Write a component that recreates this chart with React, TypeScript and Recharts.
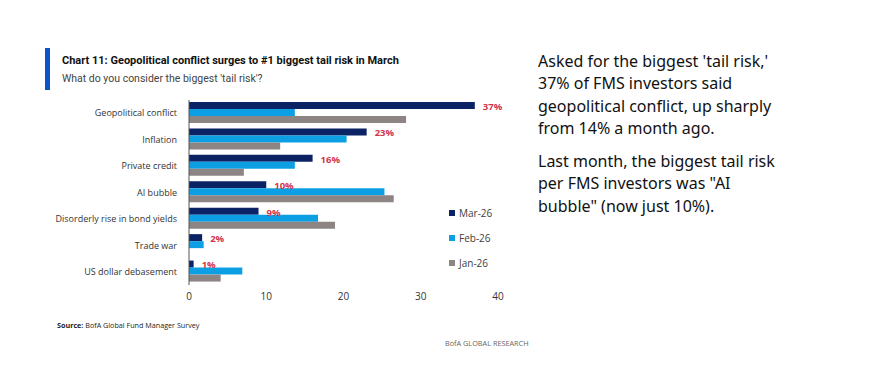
import { BarChart, Bar, XAxis, YAxis, LabelList } from 'recharts'

// chart data
const categories = [
	'Geopolitical conflict',
	'Inflation',
	'Private credit',
	'AI bubble',
	'Disorderly rise in bond yields',
	'Trade war',
	'US dollar debasement',
]
const mar26 = [37, 23, 16, 10, 9, 1.7, 0.6]
const feb26 = [13.7, 20.4, 13.7, 25.3, 16.7, 1.9, 6.9]
const jan26 = [28.1, 11.8, 7.1, 26.5, 18.9, 0, 4.1]
const xTicks = [0, 10, 20, 30, 40]

const series = [
	{ key: 'mar', name: 'Mar-26', color: '#0b2265' },
	{ key: 'feb', name: 'Feb-26', color: '#0d9fe3' },
	{ key: 'jan', name: 'Jan-26', color: '#8c8584' },
]

const data = categories.map((name, i) => ({
	name,
	mar: mar26[i],
	feb: feb26[i],
	jan: jan26[i],
}))

// single-line category label (no wrapping)
const CategoryTick = ({ x, y, payload }: any) => (
	<text x={x} y={y} dy='0.35em' textAnchor='end' fontSize={9} fill='#333' fontFamily="'Open Sans', sans-serif">
		{payload.value}
	</text>
)

// red % label just right of the Mar bar
const MarLabel = ({ x, y, width, height, value }: any) => (
	<text
		x={x + width + 8}
		y={y + height / 2 + 1}
		dy='0.35em'
		fontSize={9.5}
		fontWeight={700}
		fill='#d3344d'
		fontFamily="'Open Sans', sans-serif">
		{`${Math.round(value)}%`}
	</text>
)

export default function App() {
	return (
		<div style={{ position: 'absolute', left: 0, top: 0, width: 879, height: 379, background: '#fff', fontFamily: "'Open Sans', sans-serif" }}>
			{/* title block */}
			<div style={{ position: 'absolute', left: 45, top: 48, width: 5, height: 42, background: '#0a55c8' }} />
			<div style={{ position: 'absolute', left: 62, top: 54, fontFamily: 'Roboto, sans-serif', fontWeight: 700, fontSize: 11, color: '#111', whiteSpace: 'nowrap' }}>
				Chart 11: Geopolitical conflict surges to #1 biggest tail risk in March
			</div>
			<div style={{ position: 'absolute', left: 62, top: 72, fontFamily: 'Roboto, sans-serif', fontSize: 10.5, color: '#444', whiteSpace: 'nowrap' }}>
				What do you consider the biggest 'tail risk'?
			</div>

			<div style={{ position: 'absolute', left: 0, top: 0 }}>
				<BarChart
					width={520}
					height={320}
					data={data}
					layout='vertical'
					margin={{ top: 100, right: 22, bottom: 0, left: 0 }}
					barCategoryGap={2}
					barGap={0}>
					<XAxis
						type='number'
						domain={[0, 40]}
						ticks={xTicks}
						axisLine={false}
						tickLine={false}
						height={35}
						tick={{ fontSize: 10, fill: '#333', fontFamily: "'Open Sans', sans-serif" }}
					/>
					<YAxis
						type='category'
						dataKey='name'
						width={189}
						tickLine={false}
						axisLine={{ stroke: '#555' }}
						tickMargin={6}
						tick={<CategoryTick />}
					/>
					{series.map((s) => (
						<Bar key={s.key} dataKey={s.key} name={s.name} fill={s.color} isAnimationActive={false}>
							{s.key === 'mar' && <LabelList dataKey='mar' content={<MarLabel />} />}
						</Bar>
					))}
				</BarChart>
			</div>

			{/* legend */}
			<div style={{ position: 'absolute', left: 449, top: 200, fontSize: 10, color: '#404040' }}>
				{series.map((s) => (
					<div key={s.key} style={{ display: 'flex', alignItems: 'center', height: 25 }}>
						<span style={{ width: 6, height: 6, background: s.color, marginRight: 4, display: 'inline-block' }} />
						{s.name}
					</div>
				))}
			</div>

			<div style={{ position: 'absolute', left: 57, top: 320, fontSize: 7.2, color: '#222', whiteSpace: 'nowrap' }}>
				<b>Source:</b> BofA Global Fund Manager Survey
			</div>
			<div style={{ position: 'absolute', left: 445, top: 338, fontSize: 7.3, color: '#666', whiteSpace: 'nowrap' }}>
				BofA GLOBAL RESEARCH
			</div>

			{/* commentary */}
			<div style={{ position: 'absolute', left: 538, top: 50, width: 242, fontFamily: "'Noto Sans', sans-serif", fontSize: 16, lineHeight: '22.3px', color: '#111' }}>
				<div>Asked for the biggest 'tail risk,' 37% of FMS investors said geopolitical conflict, up sharply from 14% a month ago.</div>
				<div style={{ marginTop: 11 }}>
					Last month, the biggest tail risk per FMS investors was "AI bubble" (now just 10%).
				</div>
			</div>
		</div>
	)
}
